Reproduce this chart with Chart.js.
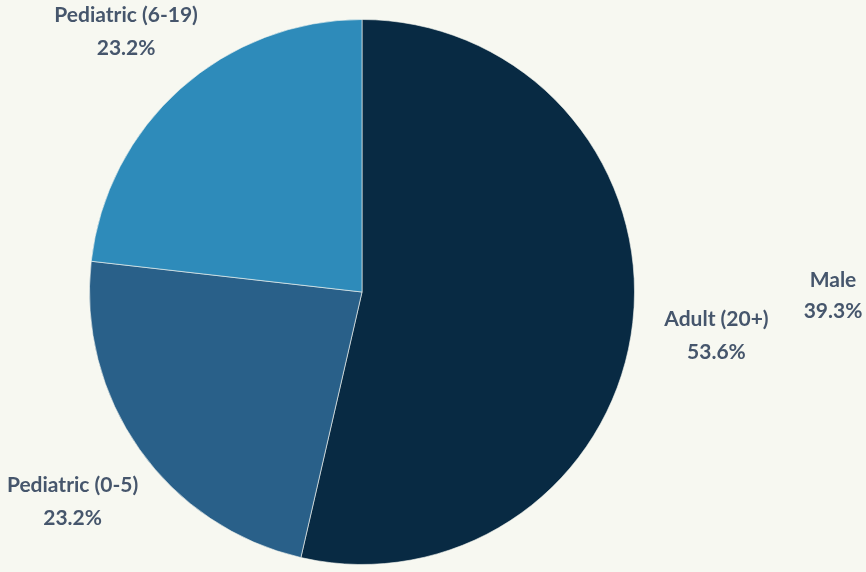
<!DOCTYPE html>
<html>
<head>
<meta charset="utf-8">
<script src="https://cdn.jsdelivr.net/npm/chart.js@4"></script>
<style>
  html, body { margin: 0; padding: 0; background: #f7f8f1; }
  #wrap { width: 866px; height: 572px; }
</style>
</head>
<body>
<div id="wrap"><canvas id="pieChart" width="866" height="572"></canvas></div>
<script>
const categories = ['Adult (20+)', 'Pediatric (0-5)', 'Pediatric (6-19)'];
const shares = [53.6, 23.2, 23.2];
const sliceColors = ['#082a43', '#296089', '#2e8bba'];

// stray label that sits outside the pie in the original
const extraLabels = ['Male'];
const extraShares = [39.3];

const textColor = '#46566c';
const labelFont = 'bold 21px Lato';

// draws "name / pct" outside each slice
const outsideLabels = {
  id: 'outsideLabels',
  afterDatasetsDraw(chart) {
    const ctx = chart.ctx;
    const meta = chart.getDatasetMeta(0);
    ctx.save();
    ctx.font = labelFont;
    ctx.fillStyle = textColor;
    ctx.textAlign = 'center';
    ctx.textBaseline = 'middle';
    const factors = [1.25, 1.31, 1.3];
    const nudge = [[16, 5], [2, 4], [0, 4]];
    meta.data.forEach((arc, i) => {
      const mid = (arc.startAngle + arc.endAngle) / 2;
      const r = arc.outerRadius * factors[i];
      const x = arc.x + Math.cos(mid) * r + nudge[i][0];
      const y = arc.y + Math.sin(mid) * r + nudge[i][1];
      ctx.fillText(categories[i], x, y - 16.5);
      ctx.fillText(shares[i].toFixed(1) + '%', x, y + 16.5);
    });
    extraLabels.forEach((name, i) => {
      ctx.fillText(name, 833, 280);
      ctx.fillText(extraShares[i].toFixed(1) + '%', 833, 311);
    });
    ctx.restore();
  }
};

const ctx = document.getElementById('pieChart').getContext('2d');
const pieChart = new Chart(ctx, {
  type: 'pie',
  data: {
    labels: categories,
    datasets: [{
      data: shares,
      backgroundColor: sliceColors,
      borderColor: 'rgba(247, 248, 241, 0.6)',
      borderWidth: 1
    }]
  },
  options: {
    responsive: false,
    animation: false,
    layout: {
      padding: { left: 89, right: 231, top: 19, bottom: 7 }
    },
    plugins: {
      legend: { display: false },
      tooltip: { enabled: false }
    }
  },
  plugins: [outsideLabels]
});
</script>
</body>
</html>
